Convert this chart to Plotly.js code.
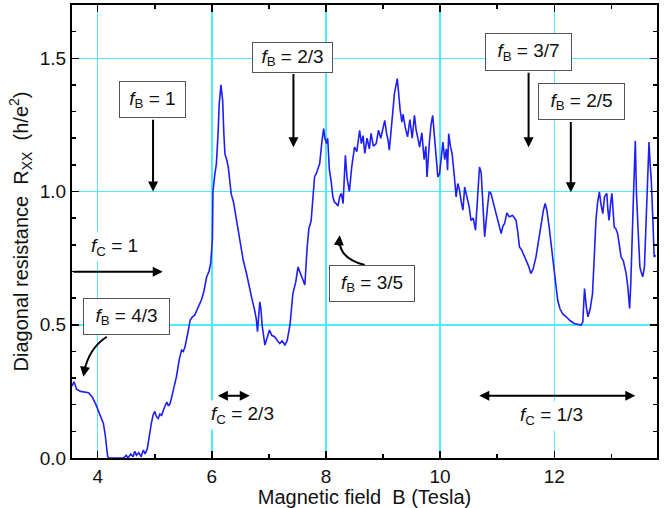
<!DOCTYPE html>
<html>
<head>
<meta charset="utf-8">
<script src="https://cdn.plot.ly/plotly-3.0.1.min.js"></script>
<style>html,body{margin:0;padding:0;background:#fff;}#chart{width:667px;height:508px;}</style>
</head>
<body>
<div id="chart"></div>
<script>
var fieldB = [3.55,3.585,3.63,3.70,3.84,3.90,3.96,4.01,4.06,4.10,4.13,4.145,4.175,4.20,4.45,4.50,4.53,4.58,4.62,4.65,4.68,4.72,4.76,4.80,4.83,4.87,4.90,4.94,4.97,5.00,5.03,5.06,5.09,5.12,5.16,5.21,5.24,5.27,5.32,5.38,5.43,5.47,5.50,5.53,5.58,5.62,5.66,5.70,5.76,5.82,5.86,5.91,5.95,5.98,6.01,6.02,6.05,6.08,6.11,6.13,6.16,6.19,6.21,6.23,6.26,6.29,6.32,6.34,6.38,6.41,6.43,6.46,6.49,6.52,6.55,6.60,6.64,6.70,6.75,6.78,6.80,6.82,6.84,6.86,6.88,6.93,6.97,7.01,7.05,7.10,7.15,7.19,7.23,7.28,7.32,7.37,7.42,7.47,7.51,7.54,7.57,7.63,7.67,7.70,7.74,7.77,7.80,7.83,7.89,7.93,7.96,7.98,8.01,8.03,8.06,8.09,8.12,8.15,8.18,8.21,8.24,8.27,8.30,8.34,8.37,8.41,8.45,8.50,8.54,8.59,8.62,8.65,8.68,8.72,8.76,8.79,8.83,8.88,8.92,8.96,9.00,9.03,9.06,9.09,9.11,9.15,9.20,9.25,9.28,9.30,9.33,9.35,9.39,9.43,9.47,9.51,9.55,9.58,9.62,9.64,9.68,9.72,9.75,9.77,9.81,9.84,9.87,9.90,9.93,9.96,9.99,10.02,10.05,10.08,10.11,10.13,10.15,10.18,10.21,10.25,10.28,10.31,10.34,10.37,10.40,10.43,10.46,10.48,10.51,10.54,10.58,10.62,10.66,10.69,10.72,10.75,10.78,10.83,10.86,10.89,10.93,10.98,11.02,11.07,11.10,11.13,11.17,11.21,11.27,11.33,11.36,11.39,11.43,11.48,11.52,11.55,11.59,11.63,11.68,11.72,11.77,11.81,11.84,11.87,11.91,11.95,12.00,12.03,12.06,12.10,12.15,12.21,12.28,12.35,12.42,12.47,12.50,12.53,12.56,12.59,12.63,12.67,12.70,12.73,12.76,12.79,12.82,12.85,12.88,12.92,12.94,12.96,12.99,13.01,13.03,13.05,13.08,13.11,13.14,13.17,13.21,13.26,13.29,13.32,13.34,13.36,13.39,13.42,13.44,13.47,13.50,13.52,13.55,13.58,13.60,13.62,13.64,13.66,13.68,13.70,13.73,13.75,13.78];
var resistanceRxx = [0.27,0.286,0.258,0.25,0.245,0.23,0.205,0.18,0.155,0.13,0.09,0.055,0.005,0,0,0.01,0.0,0.015,0.005,0.025,0.01,0.02,0.005,0.03,0.015,0.035,0.08,0.13,0.16,0.175,0.155,0.148,0.165,0.16,0.185,0.21,0.195,0.205,0.25,0.305,0.37,0.405,0.40,0.417,0.47,0.517,0.53,0.536,0.565,0.595,0.625,0.68,0.70,0.73,0.82,1.0,1.06,1.105,1.22,1.33,1.40,1.34,1.22,1.14,1.12,1.09,1.03,0.99,0.96,0.92,0.905,0.87,0.83,0.79,0.742,0.70,0.655,0.60,0.555,0.52,0.474,0.54,0.586,0.56,0.50,0.424,0.45,0.48,0.46,0.455,0.44,0.43,0.44,0.424,0.44,0.50,0.617,0.66,0.717,0.70,0.69,0.649,0.79,0.86,0.89,0.967,1.055,1.067,1.105,1.19,1.236,1.20,1.18,1.2,1.08,1.04,0.98,0.96,0.955,0.945,0.98,0.993,0.955,1.136,1.05,1.0,1.09,1.167,1.15,1.23,1.18,1.21,1.143,1.2,1.16,1.218,1.17,1.18,1.23,1.2,1.24,1.267,1.22,1.19,1.155,1.25,1.368,1.424,1.33,1.305,1.26,1.29,1.24,1.205,1.27,1.2,1.286,1.23,1.19,1.167,1.22,1.12,1.17,1.055,1.18,1.25,1.286,1.2,1.12,1.055,1.067,1.13,1.186,1.12,1.16,1.08,1.217,1.17,1.142,1.055,0.98,1.03,1.005,0.96,0.93,1.017,0.99,0.967,0.942,0.892,0.90,0.855,1.005,1.092,1.07,0.95,0.83,0.942,1.0,0.993,0.96,0.917,0.88,0.842,0.87,0.88,0.92,0.905,0.91,0.892,0.85,0.792,0.78,0.755,0.74,0.72,0.692,0.71,0.755,0.81,0.88,0.93,0.955,0.93,0.867,0.79,0.705,0.65,0.592,0.56,0.54,0.53,0.515,0.505,0.50,0.499,0.51,0.636,0.57,0.53,0.56,0.617,0.75,0.892,0.96,0.999,0.95,0.917,0.98,0.993,0.93,0.892,0.96,0.993,0.93,0.867,0.86,0.842,0.80,0.755,0.74,0.692,0.64,0.561,0.65,0.83,1.0,1.19,0.993,0.85,0.717,0.70,0.68,0.717,0.85,0.955,1.08,1.186,1.10,1.042,0.88,0.755,0.76];

var FONT = '"Liberation Sans", Arial, sans-serif';
var boxLabels = [
  {t:'<i>f</i><sub>B</sub> = 1',   x:4.96,  y:1.344, w:55, h:25},
  {t:'<i>f</i><sub>B</sub> = 2/3', x:7.41,  y:1.502, w:69, h:19},
  {t:'<i>f</i><sub>B</sub> = 3/7', x:11.54, y:1.522, w:75, h:26},
  {t:'<i>f</i><sub>B</sub> = 2/5', x:12.47, y:1.337, w:75, h:25},
  {t:'<i>f</i><sub>B</sub> = 4/3', x:4.50,  y:0.531, w:75, h:25},
  {t:'<i>f</i><sub>B</sub> = 3/5', x:8.80,  y:0.654, w:74, h:25}
];
var plainLabels = [
  {t:'<i>f</i><sub>C</sub> = 1',   x:4.29,  y:0.791},
  {t:'<i>f</i><sub>C</sub> = 2/3', x:6.54,  y:0.160},
  {t:'<i>f</i><sub>C</sub> = 1/3', x:11.96, y:0.156}
];
var arrows = [
  {x:4.97,  y:1.0,   ax:4.97,  ay:1.275, side:'end'},
  {x:7.43,  y:1.166, ax:7.43,  ay:1.447, side:'end'},
  {x:11.55, y:1.166, ax:11.55, ay:1.451, side:'end'},
  {x:12.29, y:0.997, ax:12.29, ay:1.267, side:'end'},
  {x:5.14,  y:0.699, ax:3.55,  ay:0.699, side:'end'},
  {x:6.665, y:0.234, ax:6.08,  ay:0.234, side:'end+start'},
  {x:13.42, y:0.234, ax:10.66, ay:0.234, side:'end+start'}
];

var ann = [];
boxLabels.forEach(function(b){
  ann.push({x:b.x, y:b.y, xref:'x', yref:'y', text:b.t, showarrow:false,
    width:b.w, height:b.h, bgcolor:'#fff', bordercolor:'#555', borderwidth:1, borderpad:5,
    font:{family:FONT, size:19, color:'#111'}});
});
plainLabels.forEach(function(b){
  ann.push({x:b.x, y:b.y, xref:'x', yref:'y', text:b.t, showarrow:false,
    bgcolor:'#fff', borderpad:2, font:{family:FONT, size:19, color:'#111'}});
});
arrows.forEach(function(a){
  ann.push({x:a.x, y:a.y, ax:a.ax, ay:a.ay, xref:'x', yref:'y', axref:'x', ayref:'y',
    text:'', showarrow:true, arrowhead:2, arrowside:a.side, arrowsize:1, arrowwidth:2,
    arrowcolor:'#000', standoff:0, startstandoff:0});
});
ann.push({x:3.75, y:0.305, ax:2, ay:-12, xref:'x', yref:'y', text:'', showarrow:true,
  arrowhead:2, arrowsize:1, arrowwidth:2, arrowcolor:'#000', standoff:0});
ann.push({x:8.24, y:0.836, ax:-1, ay:12, xref:'x', yref:'y', text:'', showarrow:true,
  arrowhead:2, arrowsize:1, arrowwidth:2, arrowcolor:'#000', standoff:0});

var shapes = [
  {type:'path', xref:'x', yref:'y', path:'M 4.16 0.455 Q 3.84 0.411 3.76 0.32', line:{color:'#000', width:2}},
  {type:'path', xref:'x', yref:'y', path:'M 8.68 0.724 Q 8.22 0.75 8.24 0.82', line:{color:'#000', width:2}}
];

var trace = {x:fieldB, y:resistanceRxx, type:'scatter', mode:'lines',
  line:{color:'#1F1FF5', width:1.6}, hoverinfo:'skip'};

var layout = {
  width:667, height:508,
  margin:{l:72, r:10, t:5, b:50},
  paper_bgcolor:'#fff', plot_bgcolor:'#fff',
  showlegend:false,
  font:{family:FONT, size:19, color:'#111'},
  xaxis:{range:[3.55,13.8], dtick:2, tick0:0, ticks:'inside', ticklen:7, tickwidth:1.5, tickcolor:'#000',
    showline:true, linewidth:2, linecolor:'#000', mirror:'allticks',
    showgrid:true, gridcolor:'#4DEBFF', gridwidth:1.5, zeroline:false,
    minor:{dtick:1, ticks:'inside', ticklen:4, tickwidth:1.5, tickcolor:'#000', showgrid:false},
    tickfont:{family:FONT, size:19, color:'#111'},
    title:{text:'Magnetic field  B (Tesla)', font:{family:FONT, size:20, color:'#111'}, standoff:2}},
  yaxis:{range:[0,1.7], dtick:0.5, tick0:0, tickformat:'.1f', ticks:'inside', ticklen:7, tickwidth:1.5, tickcolor:'#000',
    showline:true, linewidth:2, linecolor:'#000', mirror:'allticks',
    showgrid:true, gridcolor:'#4DEBFF', gridwidth:1.5, zeroline:false,
    minor:{dtick:0.1, ticks:'inside', ticklen:4, tickwidth:1.5, tickcolor:'#000', showgrid:false},
    tickfont:{family:FONT, size:19, color:'#111'},
    title:{text:'Diagonal resistance  R<sub>XX</sub>  (h/e<sup>2</sup>)', font:{family:FONT, size:20, color:'#111'}, standoff:6}},
  annotations:ann,
  shapes:shapes
};

Plotly.newPlot('chart', [trace], layout, {displayModeBar:false, staticPlot:true});
</script>
</body>
</html>
